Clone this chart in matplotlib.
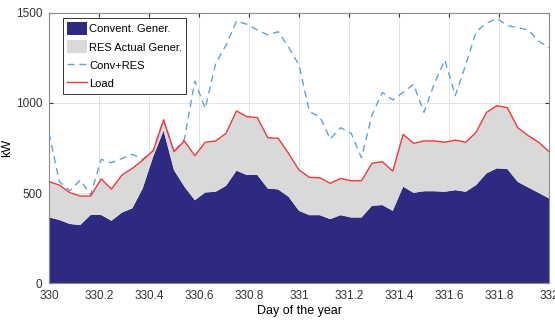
import numpy as np
import matplotlib.pyplot as plt

plt.rcParams['font.family'] = ['Liberation Sans', 'DejaVu Sans']
plt.rcParams['font.size'] = 8.5

# hourly samples, day 330 .. 332
day = 330 + np.arange(49) / 24.0

conv = [365, 350, 328, 322, 378, 378, 346, 391, 415, 526, 702, 846,
        627, 535, 460, 503, 507, 540, 624, 600, 600, 525, 520, 479,
        401, 377, 377, 355, 377, 364, 364, 429, 433, 401, 535, 501,
        510, 510, 507, 516, 507, 544, 609, 637, 633, 562, 531, 501, 470]

load = [563, 544, 502, 483, 483, 578, 522, 600, 637, 683, 735, 906,
        730, 789, 707, 782, 789, 832, 956, 924, 919, 807, 804, 720,
        628, 587, 585, 554, 581, 568, 568, 665, 674, 622, 826, 776,
        789, 789, 782, 794, 782, 837, 948, 985, 974, 863, 819, 782, 730]

conv_res = [832, 563, 513, 572, 489, 687, 668, 692, 715, 687, 735, 906,
            730, 800, 1122, 970, 1220, 1322, 1456, 1437, 1406, 1378, 1396, 1310,
            1211, 952, 924, 800, 863, 832, 696, 933, 1059, 1017, 1059, 1104,
            948, 1109, 1239, 1041, 1211, 1396, 1443, 1470, 1430, 1418, 1406, 1344, 1307]

conv = np.array(conv)
load = np.array(load)
res = load - conv

fig = plt.figure(figsize=(5.55, 3.24), dpi=100)
ax = fig.add_axes([0.0883, 0.1265, 0.9009, 0.8334])

ax.stackplot(day, conv, res, colors=['#2e2a82', '#d9d9d9'],
             labels=['Convent. Gener.', 'RES Actual Gener.'], zorder=2)
ax.plot(day, conv_res, '--', color='#5ea3d8', lw=1.0, dashes=(5, 3.5),
        label='Conv+RES', zorder=3)
ax.plot(day, load, color='#f03a3a', lw=1.0, label='Load', zorder=4)

ax.set_xlim(330, 332)
ax.set_ylim(0, 1500)
ax.set_xticks(np.arange(330, 332.01, 0.2))
ax.set_xticklabels(['330', '330.2', '330.4', '330.6', '330.8', '331',
                    '331.2', '331.4', '331.6', '331.8', '332'])
ax.set_yticks([0, 500, 1000, 1500])
ax.grid(True, color='#e3e3e3', lw=0.7, zorder=0)
ax.set_axisbelow(True)
ax.tick_params(direction='in', top=True, right=True, length=3,
               colors='#333333', labelsize=8.5, pad=5)
for s in ax.spines.values():
    s.set_color('#8c8c8c')
    s.set_linewidth(0.8)

ax.set_xlabel('Day of the year', fontsize=9, labelpad=2)
ax.set_ylabel('kW', fontsize=9)
ax.yaxis.set_label_coords(-0.071, 0.5)

leg = ax.legend(loc='upper left', bbox_to_anchor=(0.028, 0.981),
                borderaxespad=0, fontsize=8, handlelength=1.8,
                handleheight=1.4, labelspacing=0.5, handletextpad=0.2,
                borderpad=0.35, fancybox=False, framealpha=1,
                edgecolor='#333333')
leg.get_frame().set_linewidth(0.7)

fig.savefig('out.png', dpi=100)
